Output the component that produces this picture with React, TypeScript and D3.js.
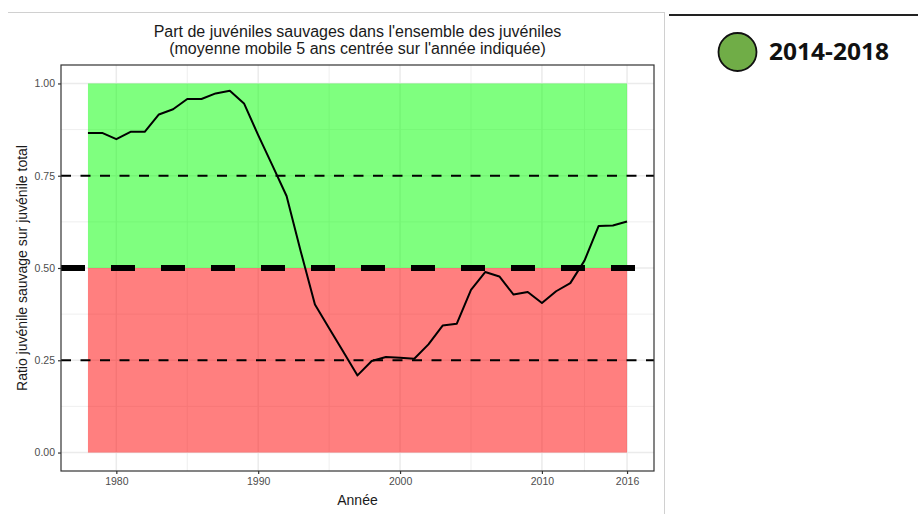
import * as d3 from "d3";
import { useLayoutEffect } from "react";

const dms = {
  width: 918,
  height: 514,
  left: 61,
  right: 654,
  top: 65,
  bottom: 471,
};

const years = d3.range(1978, 2017);
const ratio = [
  0.866, 0.866, 0.849, 0.869, 0.869, 0.916, 0.93, 0.958, 0.958, 0.973,
  0.98, 0.946, 0.86, 0.778, 0.695, 0.545, 0.401, 0.337, 0.273, 0.209,
  0.248, 0.259, 0.257, 0.254, 0.293, 0.344, 0.349, 0.441, 0.489, 0.477,
  0.428, 0.435, 0.405, 0.437, 0.459, 0.52, 0.614, 0.615, 0.626,
];

const xBreaks = [1980, 1990, 2000, 2010, 2016];
const xMinor = [1985, 1995, 2005, 2013];
const yBreaks = [0, 0.25, 0.5, 0.75, 1];
const yMinor = [0.125, 0.375, 0.625, 0.875];
const refLines = [0.25, 0.75];
const legendLabel = "2014-2018";

const font = "'Liberation Sans', Arial, sans-serif";

const Chart = () => {
  useLayoutEffect(() => {
    const svg = d3.select("#chart");
    svg.selectAll("*").remove();

    const x = d3.scaleLinear().domain([1976.1, 2017.9]).range([dms.left, dms.right]);
    const y = d3.scaleLinear().domain([-0.05, 1.05]).range([dms.bottom, dms.top]);

    svg.append("rect").attr("width", dms.width).attr("height", dms.height).attr("fill", "white");

    // frame lines of the slide
    svg.append("line").attr("x1", 8).attr("x2", 664).attr("y1", 12.5).attr("y2", 12.5)
      .attr("stroke", "#d0d0d0").attr("stroke-width", 1);
    svg.append("line").attr("x1", 664.5).attr("x2", 664.5).attr("y1", 12).attr("y2", dms.height)
      .attr("stroke", "#d0d0d0").attr("stroke-width", 1);
    svg.append("line").attr("x1", 669).attr("x2", dms.width).attr("y1", 15).attr("y2", 15)
      .attr("stroke", "#222").attr("stroke-width", 2);

    svg.append("defs").append("clipPath").attr("id", "panel")
      .append("rect").attr("x", dms.left).attr("y", dms.top)
      .attr("width", dms.right - dms.left).attr("height", dms.bottom - dms.top);

    const grid = svg.append("g");
    grid.selectAll(".vmin").data(xMinor).enter().append("line")
      .attr("x1", (d) => x(d)).attr("x2", (d) => x(d)).attr("y1", dms.top).attr("y2", dms.bottom)
      .attr("stroke", "#ebebeb").attr("stroke-width", 0.8);
    grid.selectAll(".hmin").data(yMinor).enter().append("line")
      .attr("y1", (d) => y(d)).attr("y2", (d) => y(d)).attr("x1", dms.left).attr("x2", dms.right)
      .attr("stroke", "#ebebeb").attr("stroke-width", 0.8);
    grid.selectAll(".vmaj").data(xBreaks).enter().append("line")
      .attr("x1", (d) => x(d)).attr("x2", (d) => x(d)).attr("y1", dms.top).attr("y2", dms.bottom)
      .attr("stroke", "#ebebeb").attr("stroke-width", 1.5);
    grid.selectAll(".hmaj").data(yBreaks).enter().append("line")
      .attr("y1", (d) => y(d)).attr("y2", (d) => y(d)).attr("x1", dms.left).attr("x2", dms.right)
      .attr("stroke", "#ebebeb").attr("stroke-width", 1.5);

    const x0 = d3.min(years) as number;
    const x1 = d3.max(years) as number;
    svg.append("rect").attr("x", x(x0)).attr("width", x(x1) - x(x0))
      .attr("y", y(1)).attr("height", y(0.5) - y(1)).attr("fill", "rgba(0,255,0,0.5)");
    svg.append("rect").attr("x", x(x0)).attr("width", x(x1) - x(x0))
      .attr("y", y(0.5)).attr("height", y(0) - y(0.5)).attr("fill", "rgba(255,0,0,0.5)");

    const panel = svg.append("g").attr("clip-path", "url(#panel)");
    panel.selectAll(".ref").data(refLines).enter().append("line")
      .attr("x1", dms.left).attr("x2", dms.right).attr("y1", (d) => y(d)).attr("y2", (d) => y(d))
      .attr("stroke", "black").attr("stroke-width", 2).attr("stroke-dasharray", "10,9.5");
    panel.append("line")
      .attr("x1", dms.left).attr("x2", dms.right).attr("y1", y(0.5)).attr("y2", y(0.5))
      .attr("stroke", "black").attr("stroke-width", 6).attr("stroke-dasharray", "24,26");

    const line = d3.line<number>().x((_, i) => x(years[i])).y((d) => y(d));
    panel.append("path").attr("d", line(ratio) as string)
      .attr("fill", "none").attr("stroke", "black").attr("stroke-width", 2)
      .attr("stroke-linejoin", "round");

    svg.append("rect").attr("x", dms.left).attr("y", dms.top)
      .attr("width", dms.right - dms.left).attr("height", dms.bottom - dms.top)
      .attr("fill", "none").attr("stroke", "#333").attr("stroke-width", 1.2);

    // axes
    const yAxis = svg.append("g").attr("transform", `translate(${dms.left},0)`)
      .call(d3.axisLeft(y).tickValues(yBreaks).tickFormat(d3.format(".2f")).tickSizeOuter(0).tickSize(3));
    const xAxis = svg.append("g").attr("transform", `translate(0,${dms.bottom})`)
      .call(d3.axisBottom(x).tickValues(xBreaks).tickFormat(d3.format("d")).tickSizeOuter(0).tickSize(3));
    [yAxis, xAxis].forEach((a) => {
      a.select(".domain").remove();
      a.selectAll(".tick line").attr("stroke", "#333").attr("stroke-width", 1.2);
      a.selectAll(".tick text").attr("fill", "#4d4d4d").attr("font-size", 10.5).attr("font-family", font);
    });
    yAxis.selectAll(".tick text").attr("x", -6);
    xAxis.selectAll(".tick text").attr("y", 7);

    const cx = (dms.left + dms.right) / 2;
    svg.append("text").attr("x", cx).attr("y", 36.5).attr("text-anchor", "middle")
      .attr("font-family", font).attr("font-size", 16).attr("fill", "#1a1a1a")
      .text("Part de juvéniles sauvages dans l'ensemble des juvéniles");
    svg.append("text").attr("x", cx).attr("y", 53.5).attr("text-anchor", "middle")
      .attr("font-family", font).attr("font-size", 16).attr("fill", "#1a1a1a")
      .text("(moyenne mobile 5 ans centrée sur l'année indiquée)");
    svg.append("text").attr("x", cx).attr("y", 505).attr("text-anchor", "middle")
      .attr("font-family", font).attr("font-size", 14).attr("fill", "#1a1a1a").text("Année");
    svg.append("text").attr("transform", `translate(27,${(dms.top + dms.bottom) / 2}) rotate(-90)`)
      .attr("text-anchor", "middle")
      .attr("font-family", font).attr("font-size", 14).attr("fill", "#1a1a1a")
      .text("Ratio juvénile sauvage sur juvénile total");

    // legend
    svg.append("circle").attr("cx", 737.5).attr("cy", 52).attr("r", 19)
      .attr("fill", "#70ad47").attr("stroke", "#111").attr("stroke-width", 1.8);
    svg.append("text").attr("x", 769).attr("y", 60).attr("font-family", "'Open Sans', sans-serif")
      .attr("font-weight", "bold").attr("font-size", 23).attr("textLength", 120)
      .attr("lengthAdjust", "spacingAndGlyphs").attr("fill", "#111").text(legendLabel);
  }, []);

  return (
    <div style={{ position: "absolute", left: 0, top: 0 }}>
      <svg id="chart" width={dms.width} height={dms.height} style={{ display: "block" }}></svg>
    </div>
  );
};

export default function App() {
  return <Chart />;
}
